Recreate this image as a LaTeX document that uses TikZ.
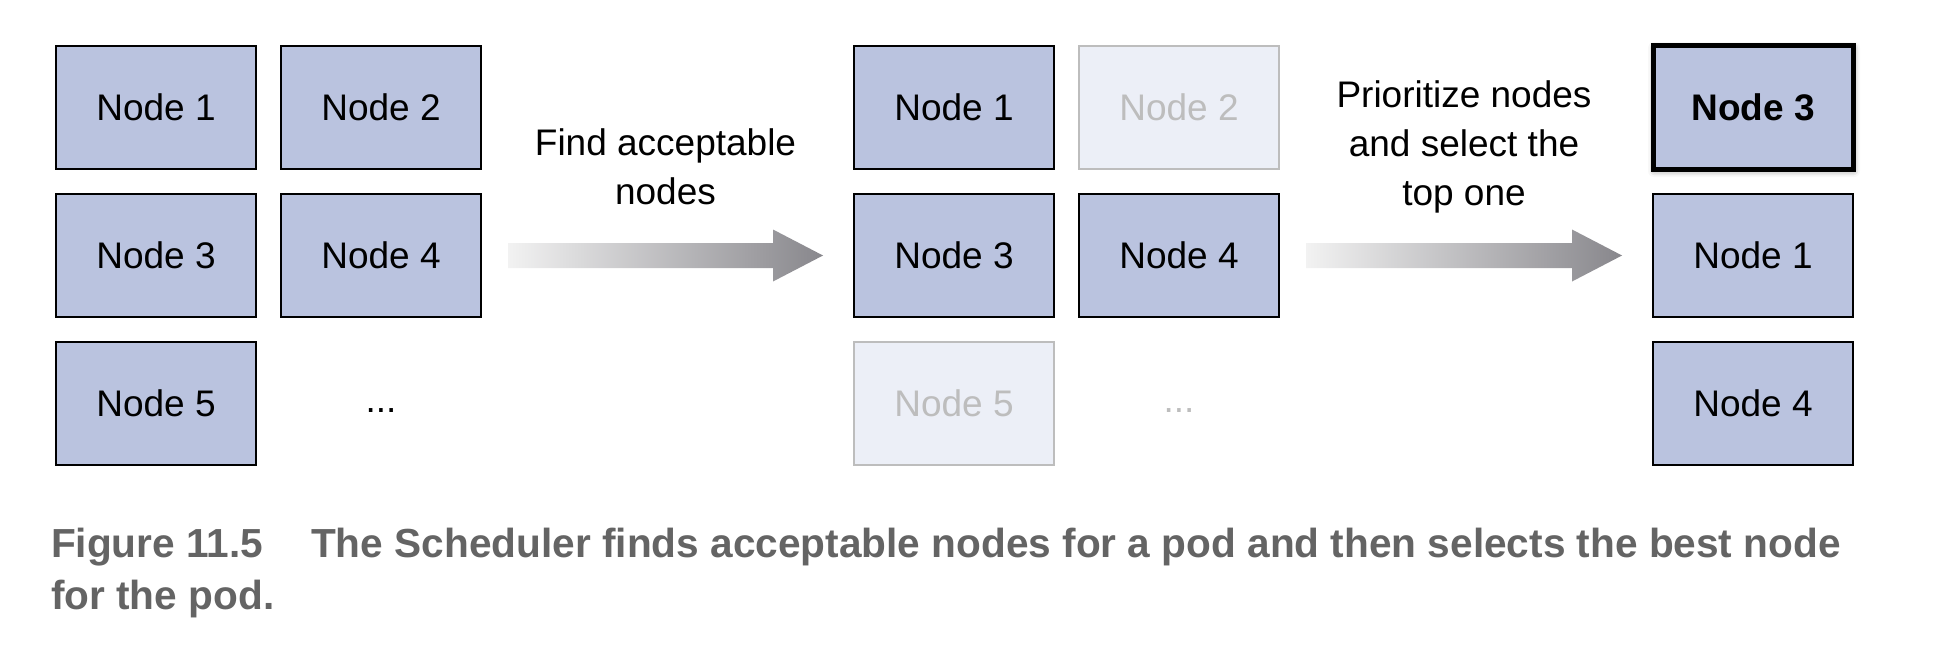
\documentclass[tikz,border=0pt]{standalone}
\usepackage{fontspec}
\setmainfont{Liberation Sans}
\usetikzlibrary{positioning,calc,shadows.blur}

\definecolor{nodefill}{HTML}{BAC3DF}
\definecolor{fadefill}{HTML}{ECEFF7}
\definecolor{fadeline}{HTML}{BDBDBD}
\definecolor{arrowlight}{HTML}{F2F2F2}
\definecolor{arrowdark}{HTML}{88878C}
\definecolor{captiongray}{HTML}{646464}

\tikzset{
  box/.style={draw=black, line width=1pt, outer sep=0.5pt, fill=nodefill, minimum width=100pt, minimum height=61.5pt, font=\fontsize{18.5}{22}\selectfont},
  faded/.style={box, draw=fadeline, fill=fadefill, text=fadeline},
  best/.style={box, line width=2.5pt, font=\fontsize{18.5}{22}\selectfont\bfseries, blur shadow={shadow xshift=0.5pt, shadow yshift=-1pt, shadow blur radius=3pt, shadow opacity=45}},
  dots/.style={minimum width=100pt, minimum height=61.5pt, outer sep=0.5pt, font=\fontsize{18.5}{22}\selectfont},
  steplabel/.style={align=center, font=\fontsize{18.5}{24.5}\selectfont},
  arrowfill/.style={left color=arrowlight, right color=arrowdark},
}

\begin{document}
\begin{tikzpicture}[x=0.5pt, y=-0.5pt, node distance=11.5pt]
\useasboundingbox (0,0) rectangle (1958,658);

	\node [box] (a1) at (156,107.5) {Node 1};
	\node [box, right=of a1] (a2) {Node 2};
	\node [box, below=of a1] (a3) {Node 3};
	\node [box, right=of a3] (a4) {Node 4};
	\node [box, below=of a3] (a5) {Node 5};
	\node [dots, right=of a5, yshift=-3.5pt] (a6) {...};

	\node [box, right=185.5pt of a2] (b1) {Node 1};
	\node [faded, right=of b1] (b2) {Node 2};
	\node [box, below=of b1] (b3) {Node 3};
	\node [box, right=of b3] (b4) {Node 4};
	\node [faded, below=of b3] (b5) {Node 5};
	\node [dots, text=fadeline, right=of b5, yshift=-3.5pt] (b6) {...};

	\node [best, right=186pt of b2] (c1) {Node 3};
	\node [box, below=of c1] (c2) {Node 1};
	\node [box, below=of c2] (c3) {Node 4};

	\coordinate (s1) at ($(a4.east)+(26,0)$);
	\coordinate (e1) at ($(b3.west)+(-30,0)$);
	\coordinate (s2) at ($(b4.east)+(26,0)$);
	\coordinate (e2) at ($(c2.west)+(-30,0)$);

	\shade [arrowfill] ($(s1)+(0,-12.5)$) -- ($(e1)+(-50,-12.5)$) -- ($(e1)+(-50,-26)$) -- (e1)
		-- ($(e1)+(-50,26)$) -- ($(e1)+(-50,12.5)$) -- ($(s1)+(0,12.5)$) -- cycle;
	\shade [arrowfill] ($(s2)+(0,-12.5)$) -- ($(e2)+(-50,-12.5)$) -- ($(e2)+(-50,-26)$) -- (e2)
		-- ($(e2)+(-50,26)$) -- ($(e2)+(-50,12.5)$) -- ($(s2)+(0,12.5)$) -- cycle;

	\node [steplabel] (l1) at ($(s1)!0.5!(e1)+(0,-89)$) {Find acceptable\\nodes};
	\node [steplabel] (l2) at ($(s2)!0.5!(e2)+(0,-109)$) {Prioritize nodes\\and select the\\top one};

	\node [anchor=west, align=left, text=captiongray, font=\fontsize{20.3}{26}\selectfont\bfseries] (cap) at (44,573)
		{Figure 11.5\hspace{24pt}The Scheduler finds acceptable nodes for a pod and then selects the best node\\for the pod.};

\end{tikzpicture}
\end{document}
